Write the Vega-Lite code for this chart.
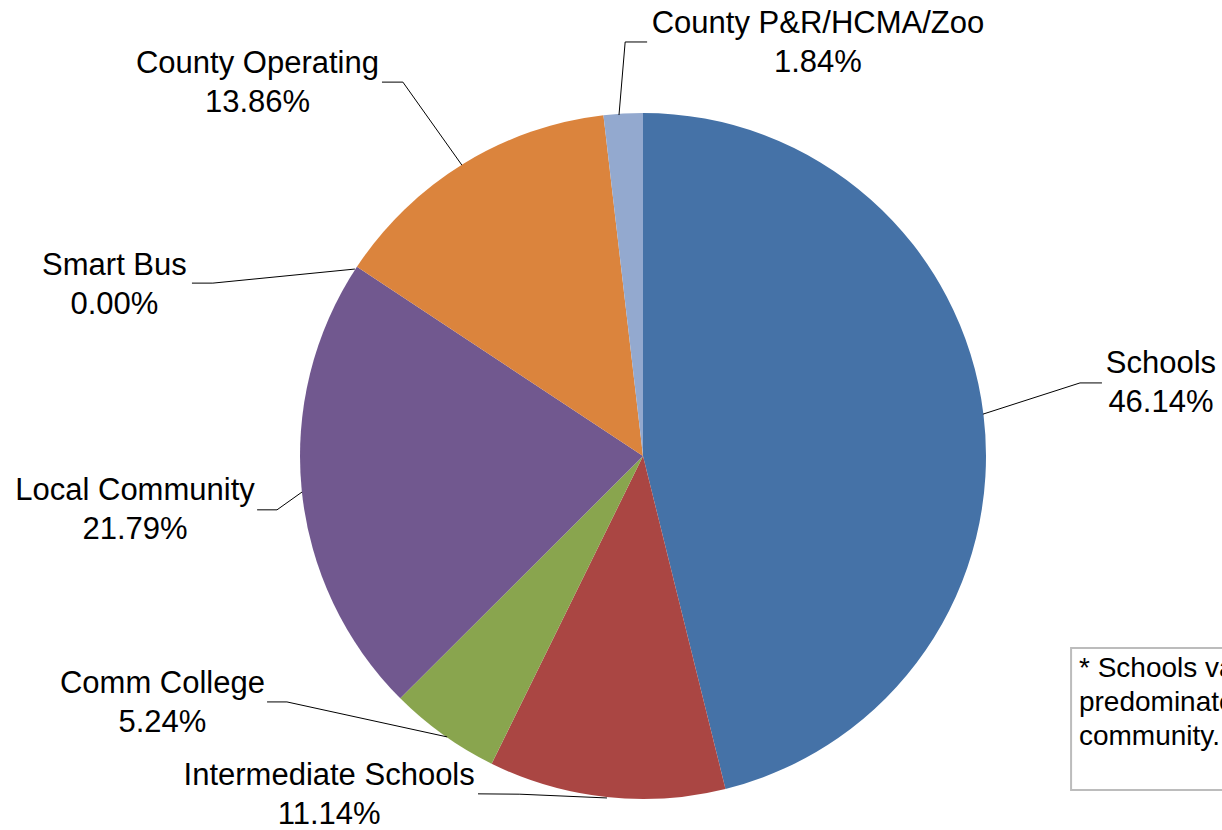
{
  "$schema": "https://vega.github.io/schema/vega-lite/v6.json",
  "width": 1222,
  "height": 830,
  "autosize": {"type": "none"},
  "padding": 0,
  "background": "white",
  "config": {"view": {"stroke": null}, "font": "Liberation Sans"},
  "datasets": {
    "slices": [
      {"name": "Schools", "share": 46.14, "rank": 1},
      {"name": "Intermediate Schools", "share": 11.14, "rank": 2},
      {"name": "Comm College", "share": 5.24, "rank": 3},
      {"name": "Local Community", "share": 21.79, "rank": 4},
      {"name": "Smart Bus", "share": 0.0, "rank": 5},
      {"name": "County Operating", "share": 13.86, "rank": 6},
      {"name": "County P&R/HCMA/Zoo", "share": 1.84, "rank": 7}
    ],
    "leaders": [
      {"name": "Schools", "step": 1, "x": 99.1, "y": 12.2},
      {"name": "Schools", "step": 2, "x": 127.4, "y": 21.3},
      {"name": "Schools", "step": 3, "x": 133.8, "y": 21.3},
      {"name": "Intermediate Schools", "step": 1, "x": -10.5, "y": -99.7},
      {"name": "Intermediate Schools", "step": 2, "x": -35.9, "y": -98.6},
      {"name": "Intermediate Schools", "step": 3, "x": -48.1, "y": -98.5},
      {"name": "Comm College", "step": 1, "x": -57.1, "y": -81.9},
      {"name": "Comm College", "step": 2, "x": -103.8, "y": -71.7},
      {"name": "Comm College", "step": 3, "x": -109.6, "y": -71.7},
      {"name": "Local Community", "step": 1, "x": -99.4, "y": -10.5},
      {"name": "Local Community", "step": 2, "x": -106.7, "y": -15.7},
      {"name": "Local Community", "step": 3, "x": -112.5, "y": -15.7},
      {"name": "Smart Bus", "step": 1, "x": -84.0, "y": 54.5},
      {"name": "Smart Bus", "step": 2, "x": -125.4, "y": 50.4},
      {"name": "Smart Bus", "step": 3, "x": -131.5, "y": 50.4},
      {"name": "County Operating", "step": 1, "x": -52.8, "y": 84.8},
      {"name": "County Operating", "step": 2, "x": -70.0, "y": 109.0},
      {"name": "County Operating", "step": 3, "x": -76.1, "y": 109.0},
      {"name": "County P&R/HCMA/Zoo", "step": 1, "x": -7.0, "y": 99.4},
      {"name": "County P&R/HCMA/Zoo", "step": 2, "x": -5.2, "y": 120.7},
      {"name": "County P&R/HCMA/Zoo", "step": 3, "x": 1.2, "y": 120.7}
    ],
    "labels": [
      {"text": "Schools\n46.14%", "x": 151.0, "y": 24.2},
      {"text": "Intermediate Schools\n11.14%", "x": -91.5, "y": -95.9},
      {"text": "Comm College\n5.24%", "x": -140.1, "y": -69.1},
      {"text": "Local Community\n21.79%", "x": -148.1, "y": -12.8},
      {"text": "Smart Bus\n0.00%", "x": -154.1, "y": 52.8},
      {"text": "County Operating\n13.86%", "x": -112.4, "y": 111.7},
      {"text": "County P&R/HCMA/Zoo\n1.84%", "x": 51.0, "y": 123.3}
    ],
    "notebox": [
      {"x": 124.8, "x2": 180.0, "y": -56.0, "y2": -97.4}
    ],
    "notetext": [
      {"text": "* Schools vary based on the\npredominate school district in the\ncommunity.", "x": 127.1, "y": -64.4}
    ]
  },
  "layer": [
    {
      "data": {"name": "slices"},
      "mark": {"type": "arc", "outerRadius": 343},
      "encoding": {
        "x": {"datum": 0, "type": "quantitative", "scale": {"domain": [-187.46, 168.8], "nice": false, "zero": false}, "axis": null},
        "y": {"datum": 0, "type": "quantitative", "scale": {"domain": [-109.04, 132.94], "nice": false, "zero": false}, "axis": null},
        "theta": {"field": "share", "type": "quantitative", "stack": true},
        "order": {"field": "rank", "type": "quantitative"},
        "color": {
          "field": "name",
          "type": "nominal",
          "scale": {
            "domain": ["Schools", "Intermediate Schools", "Comm College", "Local Community", "Smart Bus", "County Operating", "County P&R/HCMA/Zoo"],
            "range": ["#4572A7", "#AA4643", "#89A54E", "#71588F", "#4198AF", "#DB843D", "#93A9CF"]
          },
          "legend": null
        }
      }
    },
    {
      "data": {"name": "leaders"},
      "mark": {"type": "line", "color": "black", "strokeWidth": 1},
      "encoding": {
        "x": {"field": "x", "type": "quantitative", "scale": {"domain": [-187.46, 168.8], "nice": false, "zero": false}, "axis": null},
        "y": {"field": "y", "type": "quantitative", "scale": {"domain": [-109.04, 132.94], "nice": false, "zero": false}, "axis": null},
        "detail": {"field": "name", "type": "nominal"},
        "order": {"field": "step", "type": "quantitative"}
      }
    },
    {
      "data": {"name": "labels"},
      "mark": {"type": "text", "fontSize": 31, "lineHeight": 39, "lineBreak": "\n", "align": "center", "baseline": "alphabetic", "color": "black", "font": "Liberation Sans"},
      "encoding": {
        "x": {"field": "x", "type": "quantitative", "scale": {"domain": [-187.46, 168.8], "nice": false, "zero": false}, "axis": null},
        "y": {"field": "y", "type": "quantitative", "scale": {"domain": [-109.04, 132.94], "nice": false, "zero": false}, "axis": null},
        "text": {"field": "text", "type": "nominal"}
      }
    },
    {
      "data": {"name": "notebox"},
      "mark": {"type": "rect", "fill": "white", "stroke": "#bcbcbc", "strokeWidth": 2},
      "encoding": {
        "x": {"field": "x", "type": "quantitative", "scale": {"domain": [-187.46, 168.8], "nice": false, "zero": false}, "axis": null},
        "x2": {"field": "x2"},
        "y": {"field": "y", "type": "quantitative", "scale": {"domain": [-109.04, 132.94], "nice": false, "zero": false}, "axis": null},
        "y2": {"field": "y2"}
      }
    },
    {
      "data": {"name": "notetext"},
      "mark": {"type": "text", "fontSize": 28, "lineHeight": 34, "lineBreak": "\n", "align": "left", "baseline": "alphabetic", "color": "black", "font": "Liberation Sans"},
      "encoding": {
        "x": {"field": "x", "type": "quantitative", "scale": {"domain": [-187.46, 168.8], "nice": false, "zero": false}, "axis": null},
        "y": {"field": "y", "type": "quantitative", "scale": {"domain": [-109.04, 132.94], "nice": false, "zero": false}, "axis": null},
        "text": {"field": "text", "type": "nominal"}
      }
    }
  ]
}
